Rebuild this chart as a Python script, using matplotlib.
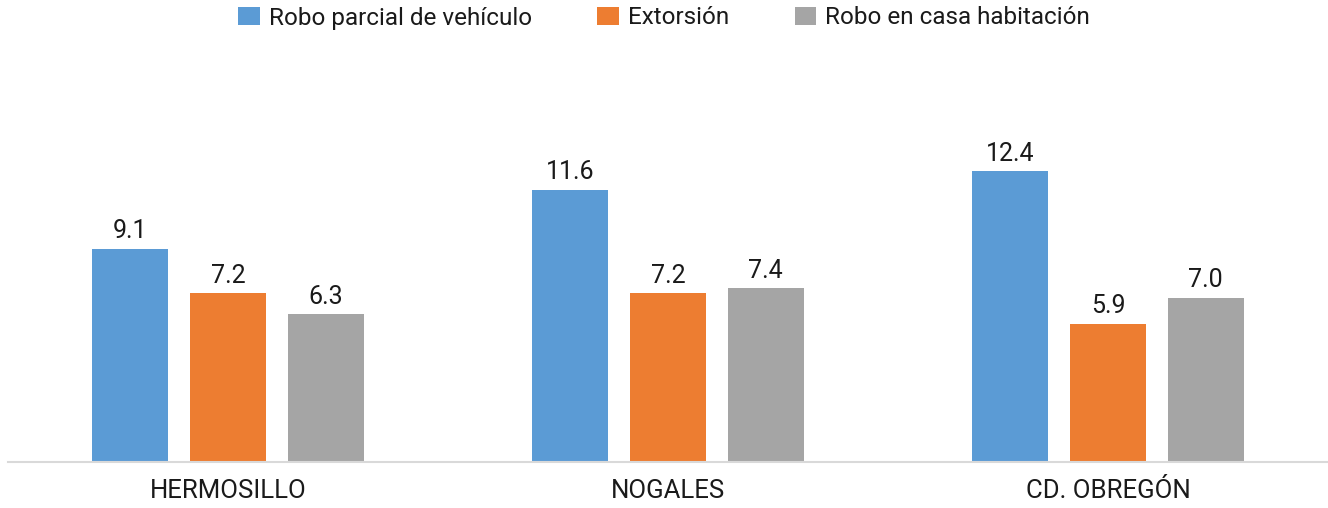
import numpy as np
import matplotlib.pyplot as plt

plt.rcParams['font.family'] = ['Roboto', 'DejaVu Sans']

# Datos
ciudades = ['HERMOSILLO', 'NOGALES', 'CD. OBREGÓN']
series = ['Robo parcial de vehículo', 'Extorsión', 'Robo en casa habitación']
robo_vehiculo = [9.1, 11.6, 12.4]
extorsion = [7.2, 7.2, 5.9]
robo_casa = [6.3, 7.4, 7.0]

colores = ['#5B9BD5', '#ED7D31', '#A5A5A5']
valores = [robo_vehiculo, extorsion, robo_casa]

fig = plt.figure(figsize=(13.28, 5.08), dpi=100)
ax = fig.add_axes([8 / 1328, 46 / 508, 1320 / 1328, 400 / 508])

x = np.arange(len(ciudades))
paso = 0.222
ancho = 0.173
for k, (nombre, vals, color) in enumerate(zip(series, valores, colores)):
    barras = ax.bar(x + (k - 1) * paso, vals, ancho, color=color, label=nombre)
    ax.bar_label(barras, labels=[f'{v:.1f}' for v in vals], padding=4,
                 fontsize=18, color='#1a1a1a')

ax.set_xlim(-0.5, 2.5)
ax.set_ylim(0, 400 / 23.45)
ax.set_xticks(x)
ax.set_xticklabels(ciudades, fontsize=18.5, color='#1a1a1a')
ax.tick_params(axis='x', length=0, pad=12)
ax.set_yticks([])
for lado in ['top', 'right', 'left']:
    ax.spines[lado].set_visible(False)
ax.spines['bottom'].set_color('#d9d9d9')
ax.spines['bottom'].set_linewidth(1.5)

fig.legend(loc='center', bbox_to_anchor=(0.5, 1 - 18 / 508), ncol=3, frameon=False,
           fontsize=17.5, handlelength=0.9, handleheight=0.7, handletextpad=0.35,
           columnspacing=2.7, labelcolor='#1a1a1a', borderpad=0)

fig.savefig('out.png', dpi=100)
